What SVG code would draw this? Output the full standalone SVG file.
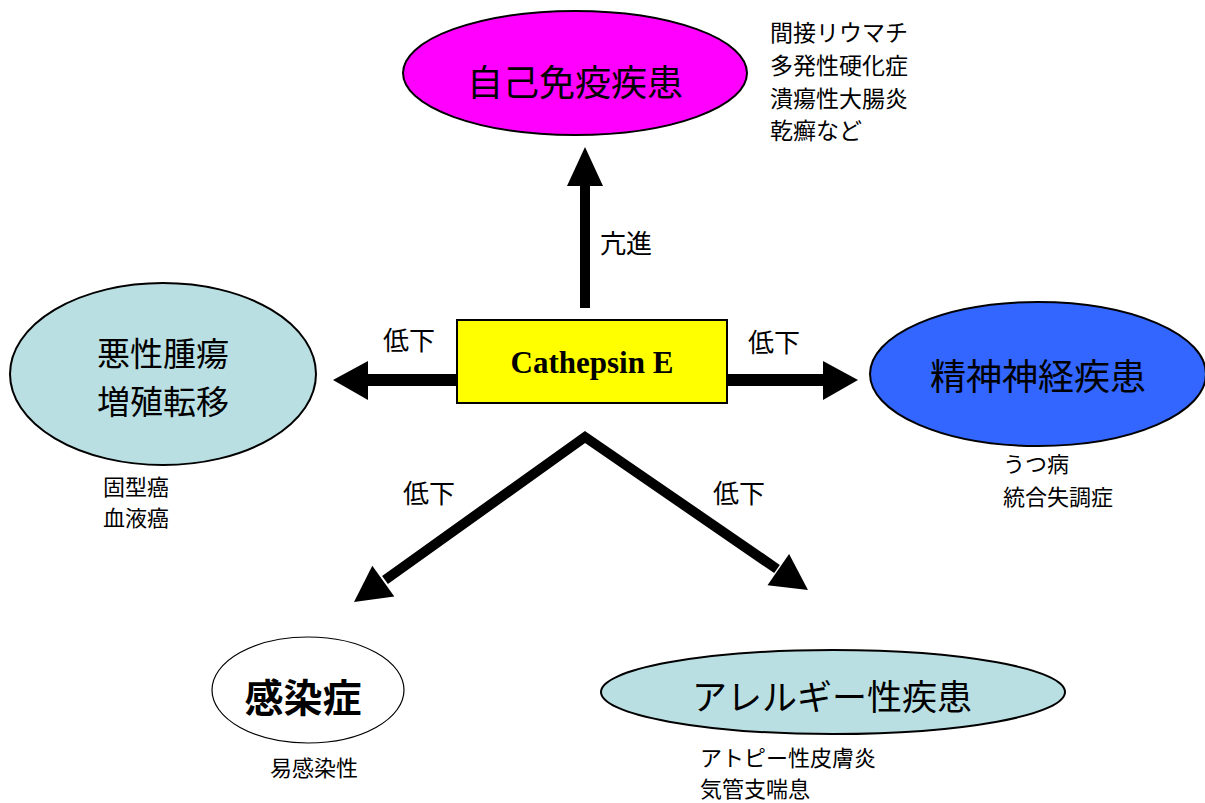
<svg xmlns="http://www.w3.org/2000/svg" width="1205" height="803" viewBox="0 0 1205 803">
<style>
.jp{font-family:"Noto Sans CJK JP","Noto Sans CJK SC",sans-serif;fill:#000}
.big{font-size:36px}
.lab{font-size:26px}
.sm{font-size:22px}
.node{stroke:#000;stroke-width:2}
.shaft{fill:none;stroke:#000;stroke-linejoin:miter}
.head{fill:#000}
</style>
<rect width="1205" height="803" fill="#fff"/>
<g id="connectors">
<line class="shaft" x1="585" y1="308" x2="585" y2="183" stroke-width="10"/>
<polygon class="head" points="585,147 567,186 603,186"/>
<line class="shaft" x1="457" y1="380" x2="366" y2="380" stroke-width="12"/>
<polygon class="head" points="333,380 368,361 368,400"/>
<line class="shaft" x1="727" y1="380" x2="825" y2="380" stroke-width="12"/>
<polygon class="head" points="858,380 823,361 823,400"/>
<polyline class="shaft" points="385,580 585,437 777,569" stroke-width="10"/>
<polygon class="head" points="354,602 394.3,596.5 372.3,565.7"/>
<polygon class="head" points="808,590 767.5,585.3 789.1,553.9"/>
<text class="jp lab" x="600" y="253">亢進</text>
<text class="jp lab" x="383" y="350">低下</text>
<text class="jp lab" x="748" y="352">低下</text>
<text class="jp lab" x="403" y="503">低下</text>
<text class="jp lab" x="713" y="503">低下</text>
</g>
<g id="center">
<rect class="node" x="457" y="320" width="270" height="83" fill="#ffff00"/>
<text x="592" y="373" text-anchor="middle" font-family="'Liberation Serif',serif" font-weight="bold" font-size="31">Cathepsin E</text>
</g>
<g id="autoimmune">
<ellipse class="node" cx="575" cy="73" rx="172" ry="62" fill="#ff00ff"/>
<text class="jp big" x="575" y="96" text-anchor="middle">自己免疫疾患</text>
<text class="jp" font-size="23" x="770" y="41">間接リウマチ</text>
<text class="jp" font-size="23" x="770" y="74">多発性硬化症</text>
<text class="jp" font-size="23" x="770" y="107">潰瘍性大腸炎</text>
<text class="jp" font-size="23" x="770" y="139">乾癬など</text>
</g>
<g id="tumor">
<ellipse class="node" cx="163" cy="374" rx="153" ry="91" fill="#b9dfe3"/>
<text class="jp" font-size="33" x="163" y="366" text-anchor="middle">悪性腫瘍</text>
<text class="jp" font-size="33" x="163" y="414" text-anchor="middle">増殖転移</text>
<text class="jp sm" x="103" y="495">固型癌</text>
<text class="jp sm" x="103" y="526">血液癌</text>
</g>
<g id="psych">
<ellipse class="node" cx="1038" cy="374" rx="168" ry="72" fill="#3366ff"/>
<text class="jp big" x="1038" y="390" text-anchor="middle">精神神経疾患</text>
<text class="jp sm" x="1003" y="472">うつ病</text>
<text class="jp sm" x="1003" y="505">統合失調症</text>
</g>
<g id="infection">
<ellipse cx="308" cy="690" rx="96" ry="53" fill="#fff" stroke="#000" stroke-width="1.2"/>
<text class="jp" font-size="39" font-weight="bold" x="303" y="712" text-anchor="middle">感染症</text>
<text class="jp sm" x="270" y="776">易感染性</text>
</g>
<g id="allergy">
<ellipse class="node" cx="833" cy="692" rx="232" ry="42" fill="#b9dfe3"/>
<text class="jp" font-size="35" x="832" y="710" text-anchor="middle">アレルギー性疾患</text>
<text class="jp sm" x="700" y="766">アトピー性皮膚炎</text>
<text class="jp sm" x="700" y="797">気管支喘息</text>
</g>
</svg>
